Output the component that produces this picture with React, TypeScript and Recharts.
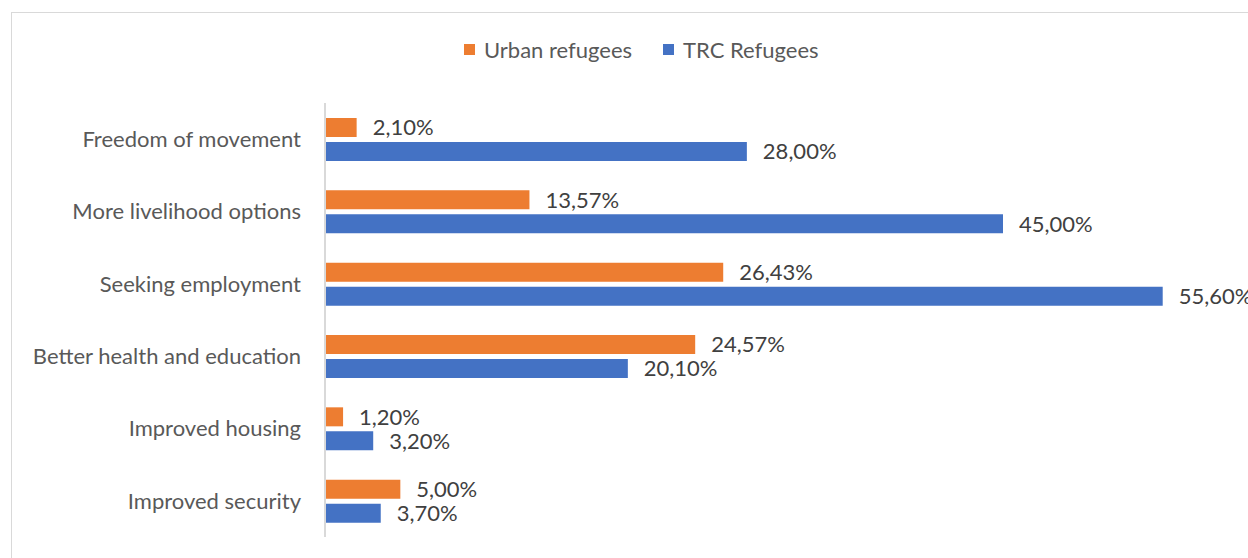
import React from 'react';
import { BarChart, Bar, XAxis, YAxis, Legend, LabelList } from 'recharts';

const categories = [
  'Freedom of movement',
  'More livelihood options',
  'Seeking employment',
  'Better health and education',
  'Improved housing',
  'Improved security',
];
const urbanRefugees = [2.1, 13.57, 26.43, 24.57, 1.2, 5.0];
const trcRefugees = [28.0, 45.0, 55.6, 20.1, 3.2, 3.7];

const data = categories.map((name, i) => ({
  name,
  urban: urbanRefugees[i],
  trc: trcRefugees[i],
}));

const ORANGE = '#ED7D31';
const BLUE = '#4472C4';
const FONT = 'Lato, "Open Sans", sans-serif';

const fmt = (v: any) => `${Number(v).toFixed(2).replace('.', ',')}%`;

const LegendContent = () => (
  <div style={{ display: 'flex', alignItems: 'center', fontFamily: FONT, fontSize: 22, color: '#595959', whiteSpace: 'nowrap' }}>
    <span style={{ width: 11, height: 11, background: ORANGE, marginRight: 9 }} />
    <span style={{ marginRight: 31 }}>Urban refugees</span>
    <span style={{ width: 11, height: 11, background: BLUE, marginRight: 9 }} />
    <span>TRC Refugees</span>
  </div>
);

export default function App() {
  return (
    <div style={{ position: 'absolute', left: 0, top: 0, width: 1248, height: 558, overflow: 'hidden', background: '#fff' }}>
      <div
        style={{
          position: 'absolute',
          left: 11,
          top: 12,
          width: 1300,
          height: 600,
          border: '1px solid #d9d9d9',
          boxSizing: 'border-box',
        }}
      />
      <div style={{ position: 'absolute', left: 0, top: 0 }}>
        <BarChart
          width={1300}
          height={558}
          data={data}
          layout="vertical"
          margin={{ top: 103, right: 71, bottom: 21, left: 15 }}
          barSize={19}
          barGap={5}
        >
          <XAxis type="number" domain={[0, 60]} hide />
          <YAxis
            type="category"
            dataKey="name"
            width={310}
            axisLine={{ stroke: '#d9d9d9', strokeWidth: 2 }}
            tickLine={false}
            tickSize={0}
            tickMargin={24}
            tick={{ fill: '#595959', fontSize: 22, fontFamily: FONT }}
          />
          <Legend
            verticalAlign="middle"
            align="center"
            content={<LegendContent />}
            wrapperStyle={{ position: 'absolute', top: 36, left: 464, width: 'auto' }}
          />
          <Bar dataKey="urban" name="Urban refugees" fill={ORANGE} isAnimationActive={false}>
            <LabelList
              dataKey="urban"
              position="right"
              offset={16}
              formatter={fmt}
              style={{ fill: '#404040', fontSize: 22, fontFamily: FONT }}
            />
          </Bar>
          <Bar dataKey="trc" name="TRC Refugees" fill={BLUE} isAnimationActive={false}>
            <LabelList
              dataKey="trc"
              position="right"
              offset={16}
              formatter={fmt}
              style={{ fill: '#404040', fontSize: 22, fontFamily: FONT }}
            />
          </Bar>
        </BarChart>
      </div>
    </div>
  );
}
